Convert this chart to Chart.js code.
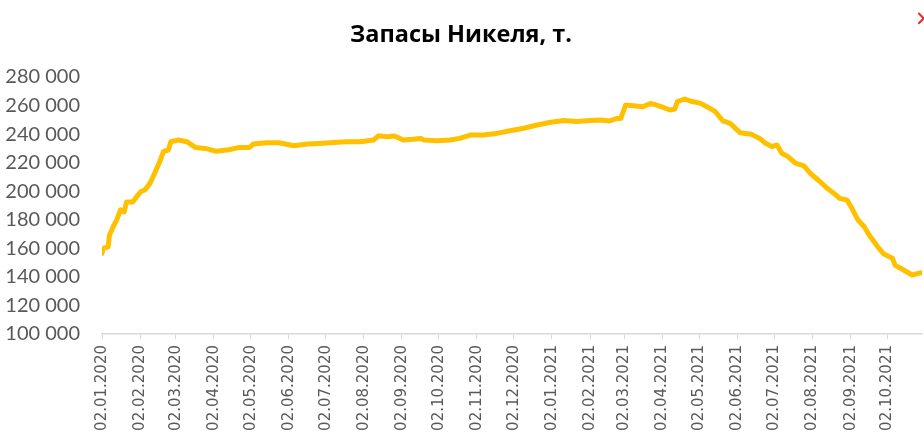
<!DOCTYPE html>
<html lang="ru">
<head>
    <meta charset="UTF-8">
    <title>Запасы Никеля</title>
    <script src="https://cdn.jsdelivr.net/npm/chart.js"></script>
    <style>
        html, body {
            margin: 0;
            padding: 0;
            background: #ffffff;
            overflow: hidden;
        }
        #wrap {
            position: relative;
            width: 924px;
            height: 444px;
        }
        #close {
            position: absolute;
            left: 915px;
            top: 7px;
            color: #e8302a;
            font: 21px "DejaVu Sans", sans-serif;
        }
    </style>
</head>
<body>
<div id="wrap">
    <canvas id="myChart"></canvas>
    <span id="close">✕</span>
</div>
<script>
    const chartTitle = 'Запасы Никеля, т.';

    // даты наблюдений (дд.мм.гггг)
    const dates = [
        '02.01.2020', '03.01.2020', '07.01.2020', '08.01.2020', '11.01.2020', '14.01.2020', '17.01.2020', '20.01.2020', '22.01.2020', '27.01.2020', '30.01.2020',
        '03.02.2020', '06.02.2020', '10.02.2020', '13.02.2020', '16.02.2020', '18.02.2020', '21.02.2020', '25.02.2020', '27.02.2020',
        '04.03.2020', '11.03.2020', '18.03.2020', '26.03.2020',
        '04.04.2020', '14.04.2020', '23.04.2020',
        '01.05.2020', '04.05.2020', '15.05.2020', '25.05.2020',
        '06.06.2020', '17.06.2020', '27.06.2020',
        '08.07.2020', '19.07.2020', '30.07.2020',
        '10.08.2020', '14.08.2020', '21.08.2020', '27.08.2020',
        '03.09.2020', '11.09.2020', '17.09.2020', '20.09.2020',
        '01.10.2020', '11.10.2020', '19.10.2020', '28.10.2020',
        '07.11.2020', '18.11.2020', '29.11.2020',
        '10.12.2020', '21.12.2020',
        '01.01.2021', '12.01.2021', '22.01.2021',
        '02.02.2021', '10.02.2021', '18.02.2021', '24.02.2021', '27.02.2021',
        '03.03.2021', '09.03.2021', '17.03.2021', '23.03.2021', '28.03.2021',
        '03.04.2021', '08.04.2021', '12.04.2021', '14.04.2021', '20.04.2021', '26.04.2021',
        '03.05.2021', '08.05.2021', '15.05.2021', '21.05.2021', '27.05.2021',
        '04.06.2021', '13.06.2021', '20.06.2021', '24.06.2021', '30.06.2021',
        '04.07.2021', '08.07.2021', '13.07.2021', '19.07.2021', '26.07.2021', '31.07.2021',
        '07.08.2021', '14.08.2021', '21.08.2021', '24.08.2021', '30.08.2021',
        '03.09.2021', '08.09.2021', '13.09.2021', '17.09.2021', '24.09.2021', '29.09.2021',
        '06.10.2021', '08.10.2021', '15.10.2021', '22.10.2021', '27.10.2021', '29.10.2021'
    ];

    // запасы, т
    const stocks = [
        156500, 160000, 161000, 169000, 175000, 180000, 187000, 185500, 192500, 192500, 196000,
        200000, 201000, 205500, 211000, 217000, 220700, 227700, 229000, 234700,
        235900, 234700, 230700, 230000,
        228000, 229000, 230700,
        230700, 233000, 234000, 234000,
        231900, 233000, 233500,
        234200, 234700, 234700,
        235900, 238900, 238200, 238700,
        235900, 236400, 237000, 235900,
        235400, 235900, 237000, 239400,
        239400, 240500, 242400,
        244100, 246400,
        248300, 249500, 248800,
        249500, 249900, 249200, 251000, 251000,
        260400, 259900, 259200, 261500, 260400,
        258500, 256900, 257600, 262800, 264600, 262800,
        261500, 259200, 255700, 249200, 247500,
        241000, 239900, 237000, 234000, 231200,
        232400, 226600, 224200, 219600, 217700, 212600,
        207500, 202000, 197400, 195000, 193900,
        188000, 179800, 175100, 169300, 161100, 156000,
        153000, 148300, 144800, 141300, 142500, 142900
    ];

    // подписи оси X
    const tickLabels = [
        '02.01.2020', '02.02.2020', '02.03.2020', '02.04.2020', '02.05.2020', '02.06.2020',
        '02.07.2020', '02.08.2020', '02.09.2020', '02.10.2020', '02.11.2020', '02.12.2020',
        '02.01.2021', '02.02.2021', '02.03.2021', '02.04.2021', '02.05.2021', '02.06.2021',
        '02.07.2021', '02.08.2021', '02.09.2021', '02.10.2021'
    ];
    const xEnd = '30.10.2021';

    const yMin = 100000;
    const yMax = 280000;
    const yStep = 20000;

    // дни от первой даты
    const base = Date.UTC(2020, 0, 2);
    function dayOf(s) {
        const p = s.split('.');
        return (Date.UTC(+p[2], +p[1] - 1, +p[0]) - base) / 86400000;
    }

    function fmt(v) {
        return String(v).replace(/\B(?=(\d{3})+(?!\d))/g, ' ');
    }

    const points = dates.map((d, i) => ({x: dayOf(d), y: stocks[i]}));
    const tickDays = tickLabels.map(dayOf);

    const ctx = document.getElementById('myChart').getContext('2d');

    new Chart(ctx, {
        type: 'line',
        data: {
            datasets: [{
                label: chartTitle,
                data: points,
                borderColor: '#FFC000',
                backgroundColor: '#FFC000',
                borderWidth: 5,
                pointRadius: 0,
                tension: 0,
                fill: false,
                borderJoinStyle: 'round',
                borderCapStyle: 'round'
            }]
        },
        options: {
            responsive: true,
            maintainAspectRatio: false,
            animation: false,
            layout: {
                padding: {left: 0, right: 2, top: 0, bottom: 0}
            },
            plugins: {
                legend: {display: false},
                tooltip: {enabled: false},
                title: {
                    display: true,
                    text: chartTitle,
                    color: '#000000',
                    font: {family: '"Open Sans", sans-serif', size: 23.5, weight: 'bold'},
                    padding: {top: 21, bottom: 27.8}
                }
            },
            scales: {
                x: {
                    type: 'linear',
                    min: 0,
                    max: dayOf(xEnd),
                    afterBuildTicks: (scale) => {
                        scale.ticks = tickDays.map(v => ({value: v}));
                    },
                    afterFit: (scale) => {
                        scale.height = 110;
                    },
                    grid: {
                        display: true,
                        drawOnChartArea: false,
                        drawTicks: true,
                        tickLength: 5,
                        color: '#d9d9d9',
                        lineWidth: 1
                    },
                    border: {display: true, color: '#d9d9d9', width: 1.5},
                    ticks: {
                        autoSkip: false,
                        minRotation: 90,
                        maxRotation: 90,
                        padding: 6,
                        color: '#595959',
                        font: {family: '"DejaVu Sans", sans-serif', size: 15},
                        callback: (v, i) => tickLabels[i]
                    }
                },
                y: {
                    min: yMin,
                    max: yMax,
                    afterFit: (scale) => {
                        scale.width = 102;
                    },
                    grid: {display: false, drawTicks: false},
                    border: {display: false},
                    ticks: {
                        stepSize: yStep,
                        padding: 22,
                        color: '#595959',
                        font: {family: 'Lato, sans-serif', size: 20},
                        callback: (v) => fmt(v)
                    }
                }
            }
        }
    });
</script>
</body>
</html>
